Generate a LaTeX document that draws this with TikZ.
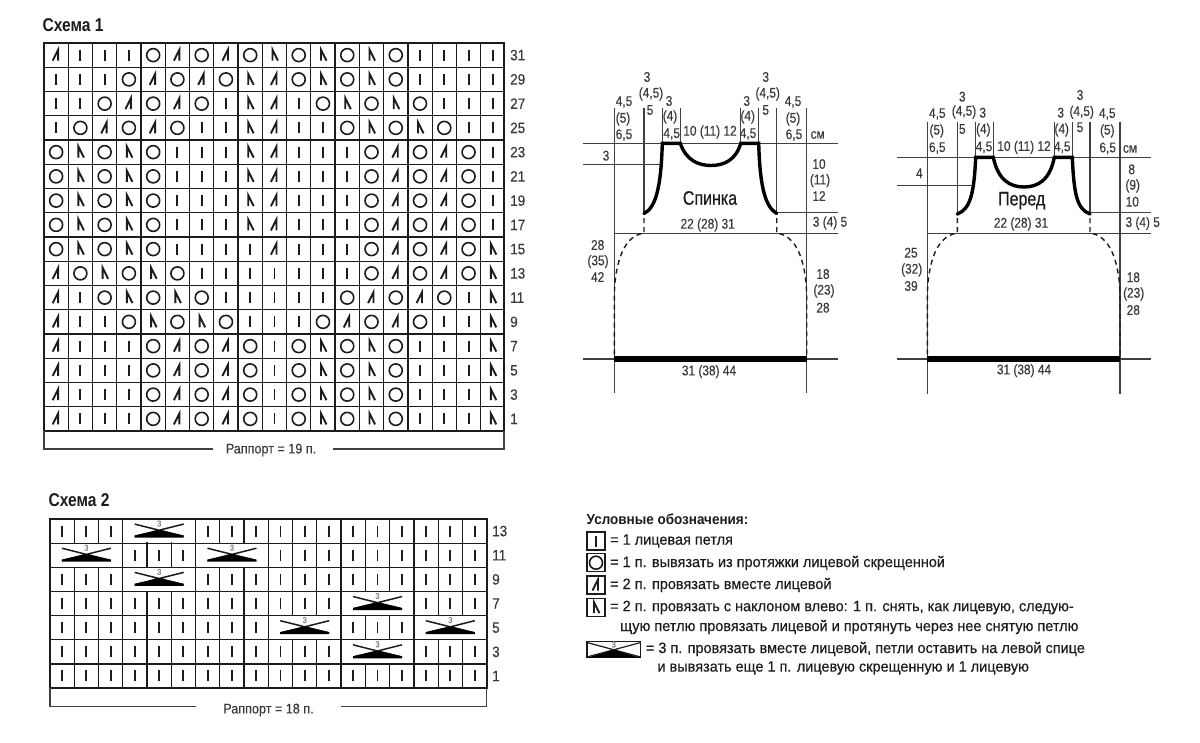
\documentclass[tikz,border=0pt]{standalone}
\usepackage{fontspec}
\setmainfont{Liberation Sans}
\newfontfamily\dimf[FakeStretch=0.85,FakeBold=0.2]{Liberation Sans}
\newfontfamily\rowf[FakeStretch=0.9,FakeBold=0.2]{Liberation Sans}
\newfontfamily\legf[FakeStretch=0.965,FakeBold=0.35]{Liberation Sans}
\newfontfamily\legb[FakeStretch=0.93]{Liberation Sans Bold}
\newfontfamily\titf[FakeStretch=0.84]{Liberation Sans Bold}
\newfontfamily\shpf[FakeStretch=0.82,FakeBold=0.4]{Liberation Sans}
\definecolor{ink}{HTML}{1C1C1C}
\definecolor{thin}{HTML}{404040}
\definecolor{lab}{HTML}{3A3A3A}
\tikzset{
 gridln/.style={draw=ink,line width=1.25pt},
 outerln/.style={draw=ink,line width=1.9pt},
 bracketln/.style={draw=thin,line width=1.4pt},
 stitchln/.style={draw=ink,line width=1.9pt,line join=miter},
 ringln/.style={draw=ink,line width=1.6pt},
 thinln/.style={draw=thin,line width=1.15pt},
 thickln/.style={draw=black,line width=3.4pt,line cap=round},
 baseln/.style={draw=black,line width=5.2pt},
 dashln/.style={draw=ink,line width=1.4pt,dash pattern=on 5pt off 4pt},
 dimlabel/.style={font=\dimf\fontsize{14}{14}\selectfont,text=lab,inner sep=0pt},
 rowlabel/.style={font=\rowf\fontsize{15}{15}\selectfont,text=lab,inner sep=0pt,anchor=west},
 shapelabel/.style={font=\shpf\fontsize{19.5}{20}\selectfont,text=ink,inner sep=0pt},
 titlelabel/.style={font=\titf\fontsize{18.5}{19}\selectfont,text=ink,inner sep=0pt,anchor=west},
 raplabel/.style={font=\rowf\fontsize{14}{14}\selectfont,text=lab,inner sep=0pt},
 legtitle/.style={font=\legb\fontsize{14.5}{15}\selectfont,text=ink,inner sep=0pt,anchor=west},
 legtext/.style={font=\legf\fontsize{15}{15}\selectfont,text=ink,inner sep=0pt,anchor=west},
 legbox/.style={draw=ink,line width=1.4pt,fill=white},
 threemark/.style={font=\rowf\fontsize{8.5}{9}\selectfont,text=gray,inner sep=0pt},
 stI/.pic={\draw[stitchln] (0,-5.5) -- (0,5.5);},
 stO/.pic={\draw[ringln] (0,0) circle (6.5);},
 stL/.pic={\draw[stitchln] (-3.5,5.5) -- (2,-5.5) -- (2,5.5);},
 stN/.pic={\draw[stitchln] (3.5,5.5) -- (-2,-5.5) -- (-2,5.5);},
 stX/.pic={
   \draw[draw=ink,line width=1.5pt] (-24.5,-7) -- (24.5,5.3) (24.5,-7) -- (-24.5,5.3);
   \fill[black] (-24.5,6.5) -- (-24.5,4.4) -- (0,-1.2) -- (24.5,4.4) -- (24.5,6.5) -- cycle;
   \path node[threemark] at (0,-7.5) {3};
 },
}
\begin{document}
\begin{tikzpicture}[x=1pt,y=-1pt]
\useasboundingbox[fill=white] (0,0) rectangle (1200,742);

% ---------- Scheme 1
\node[titlelabel] (title1) at (42.5,25) {Схема 1};
\def\xa{44}\def\dxa{24.26}\def\ya{43}\def\dya{24.25}
\foreach \i in {1,...,18} \draw[gridln] ({\xa+\i*\dxa},\ya) -- ({\xa+\i*\dxa},431);
\foreach \j in {1,...,15} \draw[gridln] (\xa,{\ya+\j*\dya}) -- (504,{\ya+\j*\dya});
\draw[outerln] (\xa,\ya) rectangle (504,431);
\draw[draw=ink,line width=2.4pt] (\xa,\ya) -- (\xa,431) -- (504,431) -- (504,\ya);

\foreach \rowno/\rowdata [count=\r from 0] in {
 31/{L,I,I,I,O,L,O,L,O,N,O,N,O,N,O,I,I,I,I},
 29/{I,I,I,O,L,O,L,O,N,L,O,N,O,N,O,I,I,I,I},
 27/{I,I,O,L,O,L,O,I,N,L,I,O,N,O,N,O,I,I,I},
 25/{I,O,L,O,L,O,I,I,N,L,I,I,O,N,O,N,O,I,I},
 23/{O,N,O,N,O,I,I,I,N,L,I,I,I,O,L,O,L,O,I},
 21/{O,N,O,N,O,I,I,I,N,L,I,I,I,O,L,O,L,O,I},
 19/{O,N,O,N,O,I,I,I,N,L,I,I,I,O,L,O,L,O,I},
 17/{O,N,O,N,O,I,I,I,N,L,I,I,I,O,L,O,L,O,I},
 15/{O,N,O,N,O,I,I,I,I,L,I,I,I,O,L,O,L,O,N},
 13/{L,O,N,O,N,O,I,I,I,I,I,I,I,O,L,O,L,O,N},
 11/{L,I,O,N,O,N,O,I,I,I,I,I,O,L,O,L,O,I,N},
 9/{L,I,I,O,N,O,N,O,I,I,I,O,L,O,L,O,I,I,N},
 7/{L,I,I,I,O,L,O,L,O,I,O,N,O,N,O,I,I,I,N},
 5/{L,I,I,I,O,L,O,L,O,I,O,N,O,N,O,I,I,I,N},
 3/{L,I,I,I,O,L,O,L,O,I,O,N,O,N,O,I,I,I,N},
 1/{L,I,I,I,O,L,O,L,O,I,O,N,O,N,O,I,I,I,N}} {
  \node[rowlabel] (rowa\rowno) at (510,{\ya+(\r+0.5)*\dya}) {\rowno};
  \foreach \c [count=\k from 0] in \rowdata
    \pic at ({\xa+(\k+0.5)*\dxa},{\ya+(\r+0.5)*\dya}) {st\c};
}
\node[raplabel] (rap1) at (271,450) {Раппорт = 19 п.};
\coordinate (b1a) at (44,431); \coordinate (b1b) at (44,449); \coordinate (b1c) at (213,449);
\coordinate (b1d) at (333,449); \coordinate (b1e) at (504,449); \coordinate (b1f) at (504,431);
\draw[bracketln] (b1a) -- (b1b) -- (b1c);
\draw[bracketln] (b1d) -- (b1e) -- (b1f);

% ---------- Scheme 2
\node[titlelabel] (title2) at (48.5,500) {Схема 2};
\def\xb{50}\def\dxb{24.26}\def\yb{519}\def\dyb{24.15}
\foreach \i in {1,...,17} \draw[gridln] ({\xb+\i*\dxb},\yb) -- ({\xb+\i*\dxb},688);
\foreach \j in {1,...,6} \draw[gridln] (\xb,{\yb+\j*\dyb}) -- (486.7,{\yb+\j*\dyb});
\draw[outerln] (\xb,\yb) rectangle (486.7,688);
\draw[draw=ink,line width=2.2pt] (\xb,\yb) -- (\xb,688) -- (486.7,688);
% stitches: columns 1-18, rows 0-6
\foreach \r/\rowdata in {
 0/{1,2,3,7,8,9,10,11,12,13,14,15,16,17,18},
 1/{4,5,6,10,11,12,13,14,15,16,17,18},
 2/{1,2,3,7,8,9,10,11,12,13,14,15,16,17,18},
 3/{1,2,3,4,5,6,7,8,9,10,11,12,16,17,18},
 4/{1,2,3,4,5,6,7,8,9,13,14,15},
 5/{1,2,3,4,5,6,7,8,9,10,11,12,16,17,18},
 6/{1,2,3,4,5,6,7,8,9,10,11,12,13,14,15,16,17,18}} {
  \foreach \c in \rowdata
    \pic at ({\xb+(\c-0.5)*\dxb},{\yb+(\r+0.5)*\dyb}) {stI};
}
% merged three-stitch cells: centre column / row
\foreach \c/\r in {5/0,2/1,8/1,5/2,14/3,11/4,17/4,14/5} {
  \fill[white] ({\xb+(\c-2)*\dxb+0.7},{\yb+\r*\dyb+0.7}) rectangle ({\xb+(\c+1)*\dxb-0.7},{\yb+(\r+1)*\dyb-0.7});
  \pic at ({\xb+(\c-0.5)*\dxb},{\yb+(\r+0.5)*\dyb}) {stX};
}
\foreach \rowno [count=\r from 0] in {13,11,9,7,5,3,1}
  \node[rowlabel] (rowb\rowno) at (492,{\yb+(\r+0.5)*\dyb}) {\rowno};
\node[raplabel] (rap2) at (268.5,710) {Раппорт = 18 п.};
\coordinate (b2a) at (50,688); \coordinate (b2b) at (50,706.5); \coordinate (b2c) at (196,706.5);
\coordinate (b2d) at (341,706.5); \coordinate (b2e) at (486.7,706.5); \coordinate (b2f) at (486.7,688);
\draw[bracketln] (b2a) -- (b2b) -- (b2c);
\draw[bracketln] (b2d) -- (b2e) -- (b2f);

% ---------- Back
\foreach \x/\ya/\yz in {614.3/108/393,644/108/215,662.3/108/143,680.3/108/143,740.7/108/143,758.7/108/143,776.7/108/213,806.7/108/393}
  \draw[thinln] (\x,\ya) -- (\x,\yz);
\foreach \y/\xa/\xz in {143.3/583/837.7,164.3/583/660,212.7/776.7/837.7,233.3/614.3/837.7,359/583/837.7}
  \draw[thinln] (\xa,\y) -- (\xz,\y);
\draw[baseln] (614.3,359) -- (806.7,359);
\draw[thickln] (644,213.5) .. controls (655,208) and (661,190) .. (662.3,143.3) -- (680.3,143.3)
  .. controls (686,160) and (698,165.5) .. (711,165.5) .. controls (724,165.5) and (736,160) .. (740.7,143.3)
  -- (758.7,143.3) .. controls (760,190) and (766,207) .. (776.7,213.5);
\draw[dashln] (644,218) -- (644,233.3) .. controls (625,235) and (615,260) .. (614.3,296) -- (614.3,359);
\draw[dashln] (776.7,218) -- (776.7,233.3) .. controls (796,235) and (806,260) .. (806.7,296) -- (806.7,359);
\foreach \x/\y/\t [count=\k] in {
 647/77/3,651/94/(4{,}5),650/110/5,624/102/{4,5},623/119/(5),624/135/{6,5},
 669/101/3,670/117/(4),671.7/134/{4,5},710/132/10 (11) 12,
 746.7/101/3,747.7/117/(4),748/134/{4,5},
 765.7/77/3,767.7/94/(4{,}5),765.7/110/5,
 793/102/{4,5},793/119/(5),794/135/{6,5},817.7/135/см,606/155.7/3,
 819/164/10,820/180.7/(11),819/196/12,707.7/225/22 (28) 31,830/223/3 (4) 5,
 597.7/245/28,598/261.7/(35),597.7/277/42,
 823/274/18,824/291/(23),823/307.7/28,709/371.7/31 (38) 44}
  \node[dimlabel] (backlab\k) at (\x,\y) {\t};
\node[shapelabel] (back) at (710,198) {Спинка};

% ---------- Front
\foreach \x/\ya/\yz in {927.3/121.7/394,957.3/121.7/216,975.7/121.7/157.3,993.3/121.7/157.3,1054.3/121.7/157.3,1072.3/121.7/157.3,1090/121.7/213,1120/121.7/394}
  \draw[thinln] (\x,\ya) -- (\x,\yz);
\foreach \y/\xa/\xz in {157.3/897.3/1151,185.3/897.3/972,212.7/1090/1151,233.3/927.3/1151,359/897.3/1151}
  \draw[thinln] (\xa,\y) -- (\xz,\y);
\draw[baseln] (927.3,359) -- (1120,359);
\draw[thickln] (957.3,214) .. controls (970,209) and (974,195) .. (975.7,157.3) -- (993.3,157.3)
  .. controls (998,180) and (1010,187) .. (1024,187) .. controls (1038,187) and (1050,180) .. (1054.3,157.3)
  -- (1072.3,157.3) .. controls (1074,195) and (1077,209) .. (1090,214);
\draw[dashln] (957.3,218) -- (957.3,233.3) .. controls (938,235) and (928,260) .. (927.3,296) -- (927.3,359);
\draw[dashln] (1090,218) -- (1090,233.3) .. controls (1109,235) and (1119.5,260) .. (1120,296) -- (1120,359);
\foreach \x/\y/\t [count=\k] in {
 962.3/96.7/3,964/112/(4{,}5),962.3/129/5,937.3/114/{4,5},936.7/131/(5),937.3/148/{6,5},
 982.7/112.7/3,983.3/130/(4),984/147.3/{4,5},1024/147.3/10 (11) 12,
 1060.7/112.7/3,1061.7/130/(4),1062.3/147.3/{4,5},
 1080/95/3,1081.7/112.3/(4{,}5),1080/127.3/5,
 1107.3/114/{4,5},1107.3/131/(5),1107.7/148.3/{6,5},1130/149/см,919.3/173.3/4,
 1131.7/169.3/8,1132.7/186/(9),1132.3/201.7/10,1021/224/22 (28) 31,1142.7/223.3/3 (4) 5,
 911/252.7/25,911.7/270/(32),911/286/39,
 1133.3/277.3/18,1133.7/294/(23),1133.3/310/28,1024/370.7/31 (38) 44}
  \node[dimlabel] (frontlab\k) at (\x,\y) {\t};
\node[shapelabel] (front) at (1021.7,200.7) {Перед};

% ---------- Legend
\node[legtitle] (legend) at (586.5,519) {Условные обозначения:};
\draw[legbox] (587,532) rectangle (605,550);
\pic at (596,541) {stI};
\draw[legbox] (587,553.7) rectangle (605,571.7);
\pic at (596,562.7) {stO};
\draw[legbox] (587,576) rectangle (605,594);
\pic at (596,585) {stL};
\draw[legbox] (587,598.7) rectangle (605,616.7);
\pic at (596,607.7) {stN};
\draw[legbox] (587,641.7) rectangle (640.7,657.7);
\draw[draw=ink,line width=1.2pt] (587,642.5) -- (640.7,657) (640.7,642.5) -- (587,657);
\fill[black] (587,657.7) -- (613.8,650) -- (640.7,657.7) -- cycle;
\node[threemark] (legthree) at (613.8,644.5) {3};
\node[legtext] (leg1) at (610,541) {= 1 лицевая петля};
\node[legtext] (leg2) at (610,563) {= 1 п. вывязать из протяжки лицевой скрещенной};
\node[legtext] (leg3) at (610,585) {= 2 п. провязать вместе лицевой};
\node[legtext] (leg4) at (610,607.5) {= 2 п. провязать с наклоном влево: 1 п. снять, как лицевую, следую-};
\node[legtext] (leg5) at (620,627) {щую петлю провязать лицевой и протянуть через нее снятую петлю};
\node[legtext] (leg6) at (645.7,649) {= 3 п. провязать вместе лицевой, петли оставить на левой спице};
\node[legtext] (leg7) at (657.3,668) {и вывязать еще 1 п. лицевую скрещенную и 1 лицевую};
\end{tikzpicture}
\end{document}
